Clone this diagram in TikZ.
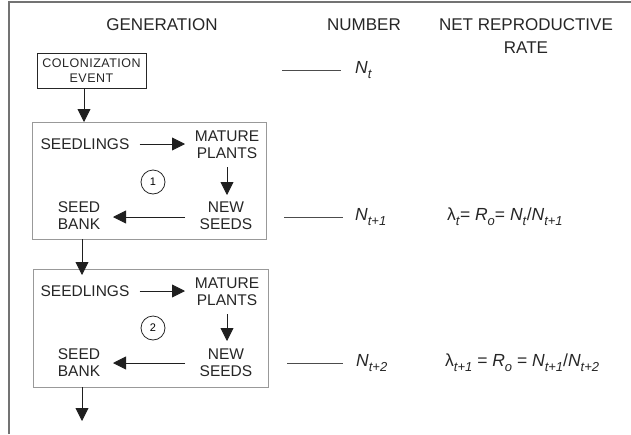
\documentclass[tikz,border=0pt]{standalone}
\usepackage{fontspec}
\setmainfont{Liberation Sans}
\usetikzlibrary{arrows.meta}
\newcommand{\sbi}[1]{\raisebox{-0.28em}{\fontsize{13}{13}\selectfont\textit{#1}}}
\begin{document}
\begin{tikzpicture}[x=1pt,y=-1pt,
  arr/.style={draw=black!88, line width=0.9pt, -{Triangle[width=13pt,length=13pt]}},
  lbl/.style={font=\fontsize{15.5}{17}\selectfont, align=center, inner sep=0pt, text=black!85},
  hdr/.style={font=\fontsize{17}{23}\selectfont, align=center, inner sep=0pt, text=black!85},
  eq/.style={font=\fontsize{17.5}{20}\selectfont, inner sep=0pt, anchor=west, text=black!85},
  gbox/.style={draw=black!40, line width=1pt, rectangle, inner sep=0pt},
  tickline/.style={draw=black!70, line width=0.9pt},
  numc/.style={circle, draw=black!85, line width=0.8pt, minimum size=24pt, inner sep=0pt, font=\fontsize{11}{12}\selectfont}]
\useasboundingbox (0,0) rectangle (631,434);
% partial frame
\draw[draw=black!55, line width=1.5pt] (9,434) -- (9,2) -- (631,2);
% headers
\node[hdr] (hgen) at (162,25) {GENERATION};
\node[hdr] (hnum) at (364,25) {NUMBER};
\node[hdr] (hnet) at (526,36.5) {NET REPRODUCTIVE\\RATE};
% colonization
\node[draw=black!85, line width=0.8pt, minimum width=109pt, minimum height=35pt, inner sep=0pt, align=center,
  font=\fontsize{12.5}{15}\addfontfeatures{LetterSpace=4}\selectfont, text=black!85] (col) at (91.5,70.5) {COLONIZATION\\EVENT};
% boxes
\node[gbox, minimum width=234pt, minimum height=117pt] (b1) at (149,180.5) {};
\node[gbox, minimum width=235pt, minimum height=118pt] (b2) at (150.5,328) {};
\coordinate (c1) at (84,88);
\coordinate (c2) at (84,122);
\coordinate (c3) at (82,239);
\coordinate (c4) at (82,275);
\coordinate (c5) at (82,387);
\coordinate (c6) at (82,421);
\draw[arr] (c1) -- (c2);
\draw[arr] (c3) -- (c4);
\draw[arr] (c5) -- (c6);
% box 1 content
\node[lbl] (sd1) at (85,144) {SEEDLINGS};
\node[lbl] (mp1) at (227,145) {MATURE\\PLANTS};
\node[lbl] (ns1) at (226,215.5) {NEW\\SEEDS};
\node[lbl] (sb1) at (79,215.5) {SEED\\BANK};
\node[numc] (n1) at (153,182) {1};
\draw[arr] ([xshift=10pt]sd1.east) -- (sd1.east -| 185,0);
\draw[arr] ([yshift=-8pt]mp1.south) -- (mp1.south |- 0,195);
\draw[arr] (185,217) -- (113,217);
% box 2 content
\node[lbl] (sd2) at (85,291) {SEEDLINGS};
\node[lbl] (mp2) at (227,292) {MATURE\\PLANTS};
\node[lbl] (ns2) at (226,362.5) {NEW\\SEEDS};
\node[lbl] (sb2) at (79,362.5) {SEED\\BANK};
\node[numc] (n2) at (153,328) {2};
\draw[arr] ([xshift=10pt]sd2.east) -- (sd2.east -| 185,0);
\draw[arr] ([yshift=-8pt]mp2.south) -- (mp2.south |- 0,341);
\draw[arr] (185,363) -- (113,363);
% numbers
\node[eq] (nt) at (355,70) {\textit{N}\sbi{t}};
\node[eq] (nt1) at (355,217) {\textit{N}\sbi{t+1}};
\node[eq] (nt2) at (356,363) {\textit{N}\sbi{t+2}};
\draw[tickline] (282,70) -- (341,70);
\draw[tickline] (284,217) -- (343,217);
\draw[tickline] (287,363) -- (343,363);
% rates
\node[eq] (l1) at (447,217) {λ\sbi{t}= \textit{R}\sbi{o}= \textit{N}\sbi{t}/\textit{N}\sbi{t+1}};
\node[eq] (l2) at (445,363) {λ\sbi{t+1} = \textit{R}\sbi{o} = \textit{N}\sbi{t+1}/\textit{N}\sbi{t+2}};
\end{tikzpicture}
\end{document}
